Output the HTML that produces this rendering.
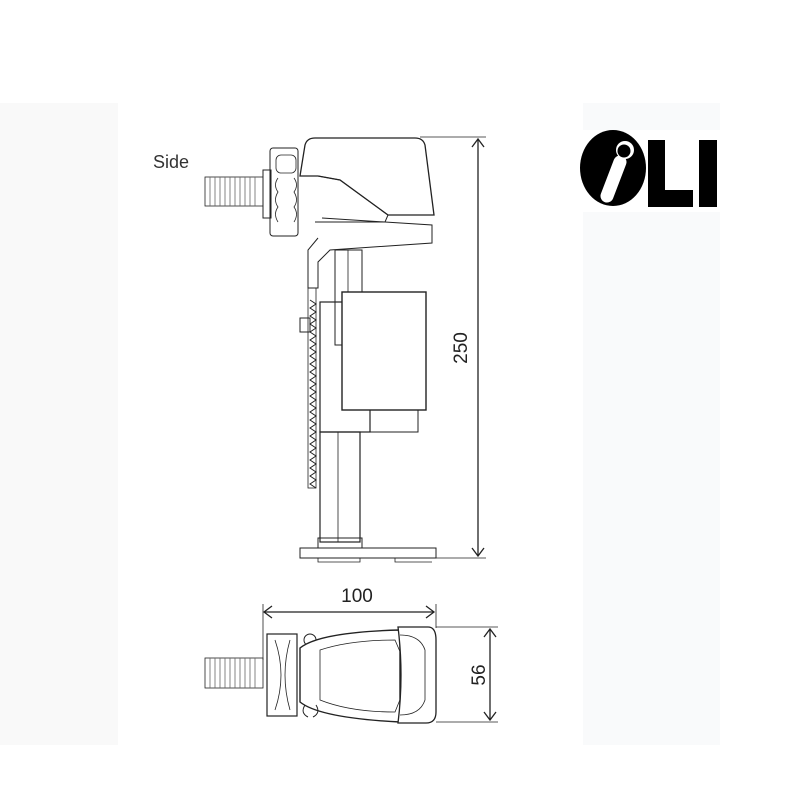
<!DOCTYPE html>
<html><head><meta charset="utf-8"><style>
html,body{margin:0;padding:0;background:#fff}
svg{display:block}
text{font-family:"Liberation Sans",sans-serif}
</style></head><body>
<svg width="792" height="812" viewBox="0 0 792 812" xmlns="http://www.w3.org/2000/svg">
<rect x="0" y="103" width="118" height="642" fill="#f9f9f9"/>
<rect x="583" y="103" width="137" height="642" fill="#f9fafb"/>
<rect x="583" y="130" width="137" height="82" fill="#fff"/>
<!-- logo -->
<ellipse cx="613" cy="168" rx="33" ry="38" fill="#000"/>
<path d="M620 162 L607 196" stroke="#fff" stroke-width="13" stroke-linecap="round"/>
<circle cx="625" cy="150" r="9" fill="#fff"/>
<circle cx="624" cy="151" r="6.5" fill="#000"/>
<path d="M648 140 H665 V190 H693 V207 H648 Z" fill="#000"/>
<rect x="699" y="140" width="18" height="67" fill="#000"/>
<!-- Side label -->
<text x="153" y="168" font-size="18" fill="#333">Side</text>
<g fill="none" stroke="#222" stroke-width="1.3">
<!-- dimension 250 -->
<line x1="420" y1="137" x2="486" y2="137" stroke-width="0.8"/>
<line x1="436" y1="558" x2="486" y2="558" stroke-width="0.8"/>
<line x1="478" y1="139" x2="478" y2="556"/>
<path d="M472 147 L478 139 L484 147 M472 548 L478 556 L484 548"/>
<!-- top cap -->
<path d="M305 145 Q307 138 315 138 L415 138 Q423 138 425 145 L434 215 L388 215 L340 180 L318 176 L300 176 Z" fill="#fff"/>
<path d="M300 176 L318 176 L340 180 L388 215 L385 222 L315 222" stroke-width="1"/>
<path d="M322 218 L432 225 L432 243 L330 250 L318 262 L318 288 L308 288 L308 250 L318 238" stroke-width="1"/>
<!-- valve body left -->
<rect x="270" y="148" width="28" height="88" rx="3" stroke-width="1"/>
<rect x="276" y="155" width="20" height="18" rx="5" stroke-width="0.8"/>
<path d="M278 178 Q273 185 278 192 Q273 200 278 207 Q273 214 278 222 M294 178 Q299 185 294 192 Q299 200 294 207 Q299 214 294 222" stroke-width="0.8"/>
<rect x="263" y="170" width="8" height="48" stroke-width="1"/>
<rect x="205" y="177" width="58" height="29" stroke-width="0.8"/>
<path d="M210 177 V206 M215 177 V206 M220 177 V206 M225 177 V206 M230 177 V206 M235 177 V206 M240 177 V206 M245 177 V206 M250 177 V206 M255 177 V206" stroke="#666" stroke-width="0.8"/>
<!-- stems -->
<rect x="335" y="250" width="27" height="95" stroke-width="1"/>
<line x1="348" y1="250" x2="348" y2="345" stroke-width="0.8"/>
<rect x="308" y="288" width="8" height="200" stroke-width="0.8"/>
<path d="M310 300 l6 4 l-6 4 l6 4 l-6 4 l6 4 l-6 4 l6 4 l-6 4 l6 4 l-6 4 l6 4 l-6 4 l6 4 l-6 4 l6 4 l-6 4 l6 4 l-6 4 l6 4 l-6 4 l6 4 l-6 4 l6 4 l-6 4 l6 4 l-6 4 l6 4 l-6 4 l6 4 l-6 4 l6 4 l-6 4 l6 4 l-6 4 l6 4 l-6 4 l6 4 l-6 4 l6 4 l-6 4 l6 4 l-6 4 l6 4 l-6 4 l6 4 l-6 4 l6 4" stroke-width="1"/>
<rect x="300" y="318" width="10" height="14" stroke-width="1"/>
<!-- float -->
<rect x="320" y="302" width="50" height="130" stroke-width="1.2"/>
<rect x="342" y="292" width="84" height="118" stroke-width="1.4" fill="#fff"/>
<rect x="370" y="410" width="48" height="22" stroke-width="1"/>
<!-- lower stem -->
<rect x="320" y="432" width="40" height="110" stroke-width="1.2"/>
<line x1="338" y1="432" x2="338" y2="542" stroke-width="0.8"/>
<rect x="318" y="538" width="44" height="10" stroke-width="1"/>
<!-- base -->
<path d="M300 548 H436 V558 H300 Z" stroke-width="1"/>
<path d="M318 558 V562 H360 V558 M395 558 V562 H432" stroke-width="0.8"/>
<!-- dimension 100 -->
<line x1="263" y1="604" x2="263" y2="660" stroke-width="0.8"/>
<line x1="436" y1="604" x2="436" y2="628" stroke-width="0.8"/>
<line x1="264" y1="612" x2="434" y2="612"/>
<path d="M272 606 L264 612 L272 618 M426 606 L434 612 L426 618"/>
<!-- dimension 56 -->
<line x1="436" y1="627" x2="498" y2="627" stroke-width="0.8"/>
<line x1="436" y1="722" x2="498" y2="722" stroke-width="0.8"/>
<line x1="490" y1="629" x2="490" y2="720"/>
<path d="M484 637 L490 629 L496 637 M484 712 L490 720 L496 712"/>
<!-- top view -->
<rect x="205" y="658" width="58" height="30" stroke-width="0.8"/>
<path d="M210 658 V688 M215 658 V688 M220 658 V688 M225 658 V688 M230 658 V688 M235 658 V688 M240 658 V688 M245 658 V688 M250 658 V688 M255 658 V688" stroke="#666" stroke-width="0.8"/>
<rect x="267" y="634" width="30" height="82" stroke-width="1.2"/>
<path d="M275 640 Q287 675 275 710 M290 640 Q280 675 290 710" stroke-width="0.8"/>
<circle cx="310" cy="640" r="6" stroke-width="1"/>
<path d="M300 648 Q320 632 400 630 L400 722 Q320 718 300 702 Z" stroke-width="1.4" fill="#fff"/>
<path d="M320 650 Q350 640 395 640 L410 675 L395 712 Q350 712 320 700 Z" stroke-width="0.8"/>
<path d="M398 627 H428 Q436 627 436 640 V712 Q436 723 426 723 H398 Q404 675 398 627 Z" stroke-width="1.3" fill="#fff"/>
<path d="M400 635 Q420 635 425 650 V700 Q420 715 400 715" stroke-width="0.8"/>
<path d="M305 705 q-5 8 3 12 m8 -12 q5 8 -3 12" stroke-width="1"/>
</g>
<text x="0" y="0" font-size="19" fill="#222" transform="translate(467 348) rotate(-90)" text-anchor="middle">250</text>
<text x="357" y="602" font-size="19" fill="#222" text-anchor="middle">100</text>
<text x="0" y="0" font-size="19" fill="#222" transform="translate(485 675) rotate(-90)" text-anchor="middle">56</text>
</svg>
</body></html>
